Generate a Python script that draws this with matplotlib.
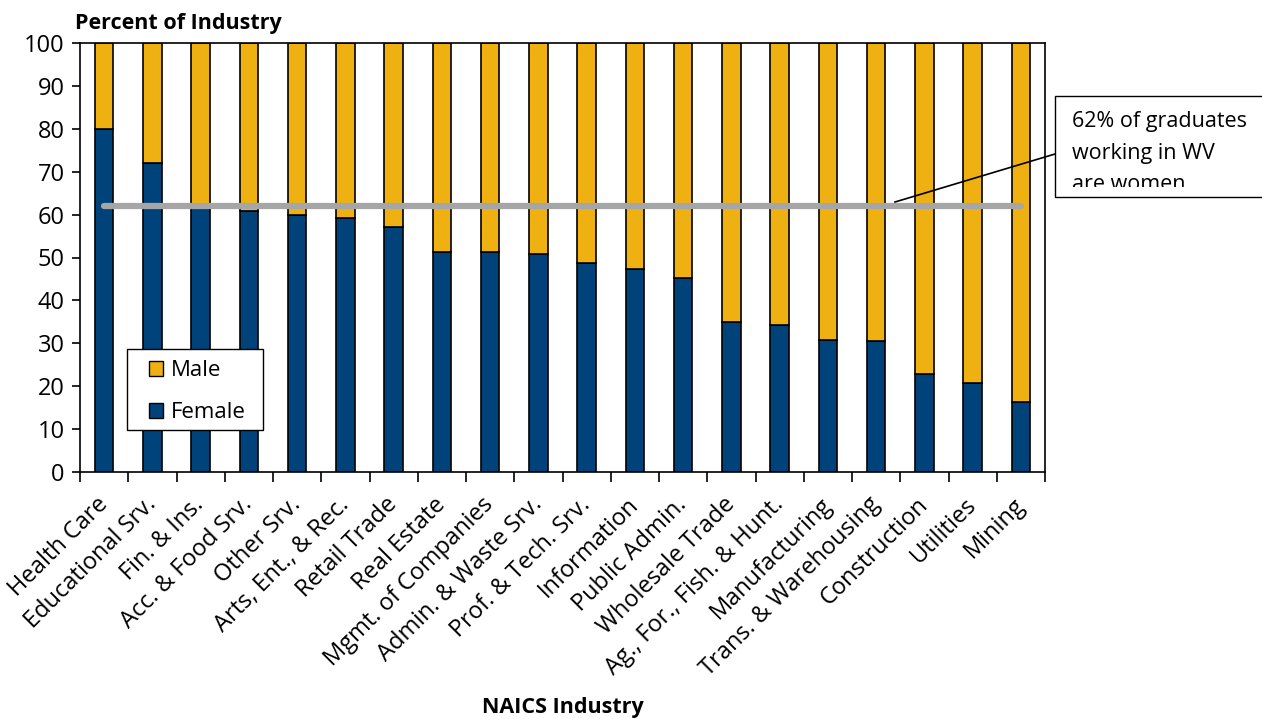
import matplotlib
matplotlib.use("Agg")
import matplotlib.pyplot as plt
from matplotlib.patches import Rectangle, Patch
from matplotlib.lines import Line2D

plt.rcParams['font.family'] = ['Open Sans', 'DejaVu Sans']

categories = ["Health Care", "Educational Srv.", "Fin. & Ins.", "Acc. & Food Srv.",
              "Other Srv.", "Arts, Ent., & Rec.", "Retail Trade", "Real Estate",
              "Mgmt. of Companies", "Admin. & Waste Srv.", "Prof. & Tech. Srv.",
              "Information", "Public Admin.", "Wholesale Trade", "Ag., For., Fish. & Hunt.",
              "Manufacturing", "Trans. & Warehousing", "Construction", "Utilities", "Mining"]
female = [80.0, 72.0, 62.0, 60.9, 59.9, 59.2, 57.1, 51.3, 51.3, 50.8, 48.8,
          47.4, 45.3, 35.0, 34.3, 30.8, 30.6, 22.8, 20.7, 16.3]
male = [100 - f for f in female]
overall_female = 62
yticks = list(range(0, 101, 10))

W, H = 1262, 719
fig = plt.figure(figsize=(W / 100, H / 100), dpi=100)
L, R, T, B = 80, 1045, 43, 472
ax = fig.add_axes([L / W, 1 - B / H, (R - L) / W, (B - T) / H])

blue = "#00427A"
gold = "#EFB112"
x = list(range(len(categories)))
ax.bar(x, female, width=0.38, color=blue, edgecolor="black", linewidth=1.2, label="Female", zorder=2)
ax.bar(x, male, width=0.38, bottom=female, color=gold, edgecolor="black", linewidth=1.2, label="Male", zorder=2)

ax.plot([x[0], x[-1]], [overall_female, overall_female], color="#A6A6A6", lw=4.5,
        solid_capstyle="round", zorder=3)

ax.set_xlim(-0.5, len(categories) - 0.5)
ax.set_ylim(0, 100)
ax.set_yticks(yticks)
ax.set_yticklabels([str(v) for v in yticks], fontsize=17)
ax.set_xticks(x)
ax.set_xticklabels(categories, rotation=45, ha="right", va="center",
                   rotation_mode="anchor", fontsize=17)
ax.set_xticks([i + 0.5 for i in range(-1, len(categories))], minor=True)
ax.tick_params(axis="x", which="major", length=0, pad=21)
ax.tick_params(axis="x", which="minor", length=7, width=1.2, direction="out")
ax.tick_params(axis="y", length=6, width=1.2, direction="out", pad=5)
for s in ax.spines.values():
    s.set_linewidth(1.2)

# legend box
lx0, ly0, lx1, ly1 = 127, 349, 263, 430
def ax_xy(px, py):
    return (px - L) / (R - L), 1 - (py - T) / (B - T)
bx, by = ax_xy(lx0, ly1)
ax.add_patch(Rectangle((bx, by), (lx1 - lx0) / (R - L), (ly1 - ly0) / (B - T),
                       transform=ax.transAxes, facecolor="white", edgecolor="black",
                       linewidth=1.0, zorder=5))
handles = [Patch(facecolor=gold, edgecolor="black", label="Male"),
           Patch(facecolor=blue, edgecolor="black", label="Female")]
leg = ax.legend(handles=handles, loc="upper left",
                bbox_to_anchor=ax_xy(149, 360),
                fontsize=16, frameon=False,
                handlelength=0.65, handleheight=0.65, handletextpad=0.35,
                labelspacing=0.95, borderpad=0.0, borderaxespad=0)
leg.set_zorder(6)

fig.text(75 / W, 1 - 23 / H, "Percent of Industry", fontsize=15.5, fontweight="bold",
         ha="left", va="center")
fig.text(563 / W, 1 - 707 / H, "NAICS Industry", fontsize=15.5, fontweight="bold",
         ha="center", va="center")

# annotation box
bx0, by0, bx1, by1 = 1055, 96, 1275, 197
rect = Rectangle((bx0 / W, 1 - by1 / H), (bx1 - bx0) / W, (by1 - by0) / H,
                 transform=fig.transFigure, facecolor="white", edgecolor="black",
                 linewidth=1.0, zorder=1)
fig.patches.append(rect)
clip = Rectangle((bx0 / W, 1 - 187 / H), (bx1 - bx0) / W, (187 - by0) / H,
                 transform=fig.transFigure, facecolor="none", edgecolor="none")
for i, line in enumerate(["62% of graduates", "working in WV", "are women"]):
    t = fig.text(1072 / W, 1 - (122 + 31 * i) / H, line, fontsize=15.5, ha="left", va="center",
                 zorder=6)
    t.set_clip_path(clip)
fig.lines.append(Line2D([895 / W, bx0 / W], [1 - 202 / H, 1 - 154 / H],
                        transform=fig.transFigure, color="black", lw=1.2, zorder=6))

fig.savefig("out.png", dpi=100)
